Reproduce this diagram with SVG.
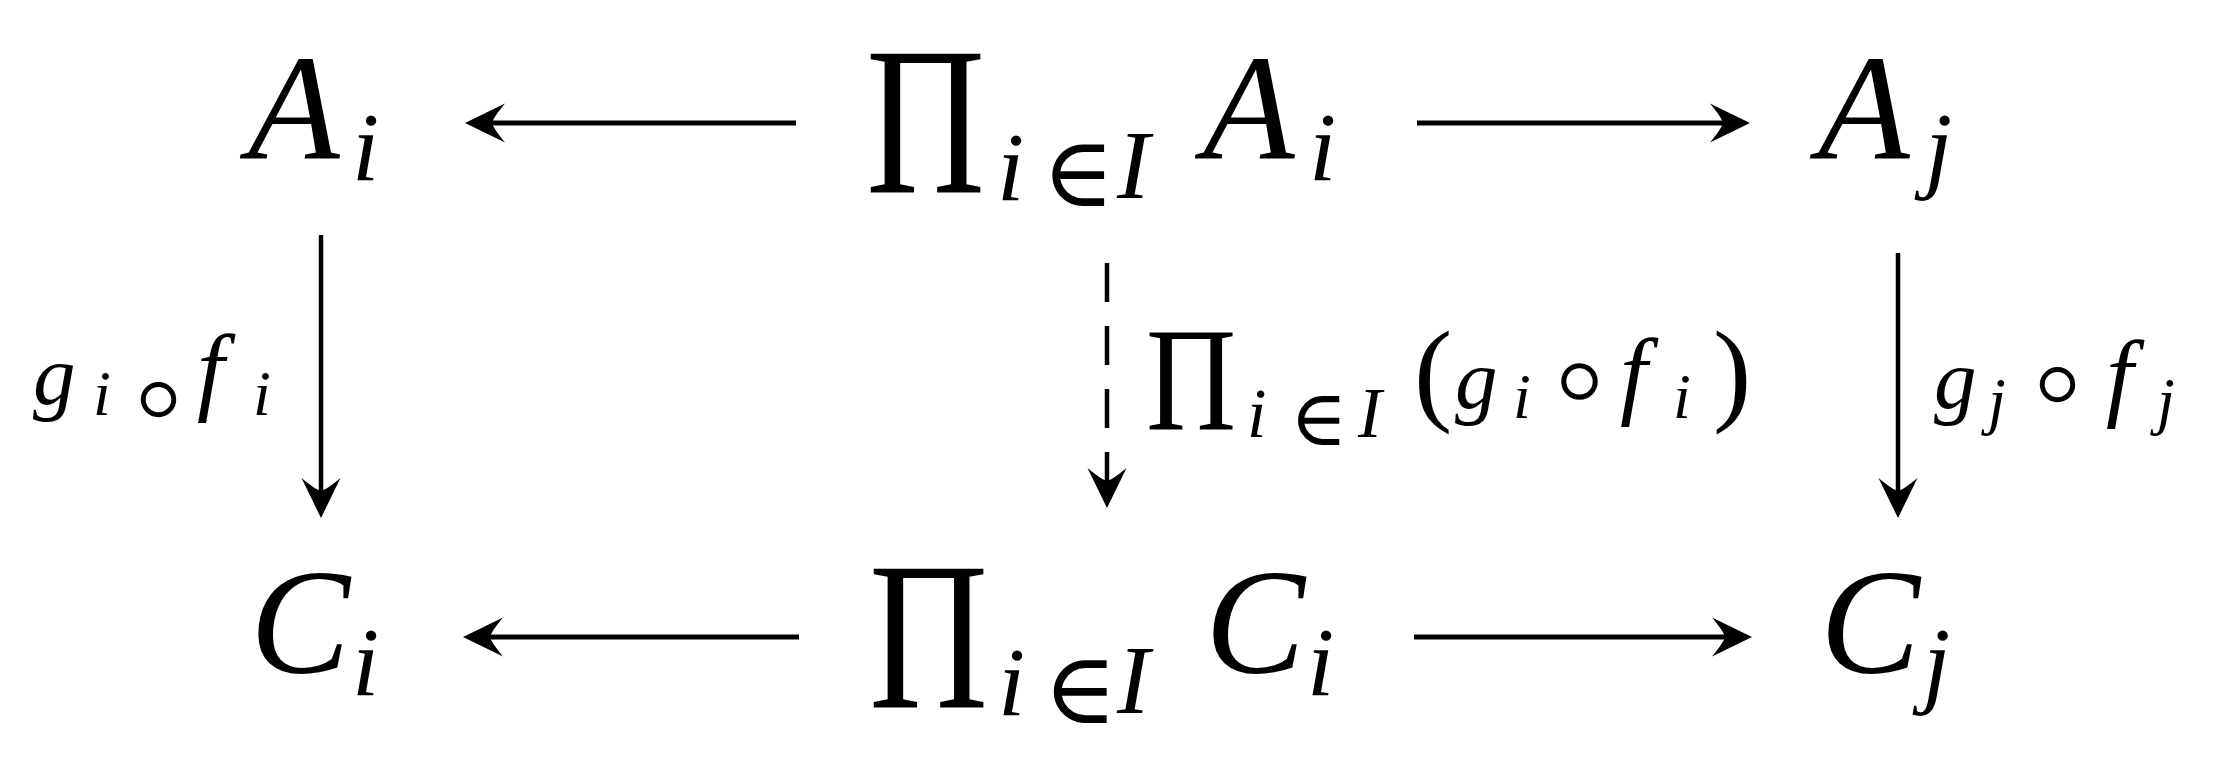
<svg xmlns="http://www.w3.org/2000/svg" width="2236" height="775" viewBox="0 0 2236 775">
<style>
.m { font-family: "Liberation Serif", "Times New Roman", serif; font-style: italic; fill: #000; }
.u { font-family: "Liberation Serif", "Times New Roman", serif; font-style: normal; fill: #000; }
.s { font-family: "DejaVu Serif", "DejaVu Sans", serif; font-style: normal; }
.o { font-family: "DejaVu Sans", "DejaVu Serif", sans-serif; font-style: normal; font-weight: 200; }
.up { font-style: normal; }
.edge { stroke: #000; fill: none; }
.h { stroke-width: 5; }
.v { stroke-width: 4.5; }
.dash { stroke-dasharray: 39 24; }
</style>
<defs>
<marker id="arr" markerUnits="userSpaceOnUse" markerWidth="60" markerHeight="60" refX="0" refY="0" orient="auto" overflow="visible" viewBox="-20 -25 60 50">
<path d="M27,0 L-13,-19.5 Q-1,-5 0,0 Q-1,5 -13,19.5 Z" fill="#000"/>
</marker>
</defs>
<rect width="2236" height="775" fill="#fff"/>

<g id="node-Ai">
<text class="m"><tspan x="248" y="158" font-size="150">A</tspan><tspan x="352" y="180" font-size="98">i</tspan></text>
</g>

<g id="node-prodA">
<text class="u" font-size="165" transform="translate(866 193) scale(1 1.282)">Π</text>
<text class="m"><tspan x="997" y="200" font-size="98">i</tspan><tspan class="s" x="1042" y="206" font-size="98">∈</tspan><tspan x="1117" y="198" font-size="98">I</tspan><tspan x="1203" y="158" font-size="150">A</tspan><tspan x="1309" y="180" font-size="98">i</tspan></text>
</g>

<g id="node-Aj">
<text class="m"><tspan x="1818" y="158" font-size="150">A</tspan><tspan x="1925" y="180" font-size="98">j</tspan></text>
</g>

<g id="node-Ci">
<text class="m"><tspan x="250" y="673" font-size="150">C</tspan><tspan x="352" y="695" font-size="98">i</tspan></text>
</g>

<g id="node-prodC">
<text class="u" font-size="165" transform="translate(869 708) scale(1 1.282)">Π</text>
<text class="m"><tspan x="998" y="715" font-size="98">i</tspan><tspan class="s" x="1043" y="723" font-size="100">∈</tspan><tspan x="1117" y="713" font-size="98">I</tspan><tspan x="1205" y="673" font-size="150">C</tspan><tspan x="1307" y="695" font-size="98">i</tspan></text>
</g>

<g id="node-Cj">
<text class="m"><tspan x="1820" y="673" font-size="150">C</tspan><tspan x="1923" y="695" font-size="98">j</tspan></text>
</g>

<g id="connectors">
<line class="edge h" x1="796" y1="123" x2="492" y2="123" marker-end="url(#arr)"/>
<line class="edge h" x1="1417" y1="123" x2="1723" y2="123" marker-end="url(#arr)"/>
<line class="edge h" x1="799" y1="637" x2="490" y2="637" marker-end="url(#arr)"/>
<line class="edge h" x1="1414" y1="637" x2="1725" y2="637" marker-end="url(#arr)"/>
<line class="edge v" x1="321" y1="235" x2="321" y2="491" marker-end="url(#arr)"/>
<line class="edge v dash" x1="1107" y1="263" x2="1107" y2="481" marker-end="url(#arr)"/>
<line class="edge v" x1="1898" y1="253" x2="1898" y2="491" marker-end="url(#arr)"/>
</g>

<g id="label-left">
<text class="m"><tspan x="33" y="404" font-size="85">g</tspan><tspan x="93" y="415" font-size="64">i</tspan><tspan class="o" x="117" y="441" font-size="132">∘</tspan><tspan x="197" y="402" font-size="98">f</tspan><tspan x="253" y="415" font-size="64">i</tspan></text>
</g>

<g id="label-mid">
<text class="u" font-size="125" transform="translate(1146 430) scale(1 1.184)">Π</text>
<text class="m"><tspan x="1247" y="437" font-size="70">i</tspan><tspan class="s" x="1290" y="445" font-size="78">∈</tspan><tspan x="1358" y="437" font-size="71">I</tspan><tspan class="up" x="1414" y="410" font-size="115">(</tspan><tspan x="1455" y="408" font-size="85">g</tspan><tspan x="1513" y="418" font-size="64">i</tspan><tspan class="o" x="1537" y="424" font-size="136">∘</tspan><tspan x="1620" y="406" font-size="98">f</tspan><tspan x="1673" y="418" font-size="64">i</tspan><tspan class="up" x="1713" y="410" font-size="115">)</tspan></text>
</g>

<g id="label-right">
<text class="m"><tspan x="1934" y="408" font-size="85">g</tspan><tspan x="1988" y="422" font-size="64">j</tspan><tspan class="o" x="2016" y="426" font-size="132">∘</tspan><tspan x="2106" y="408" font-size="98">f</tspan><tspan x="2157" y="422" font-size="64">j</tspan></text>
</g>
</svg>
